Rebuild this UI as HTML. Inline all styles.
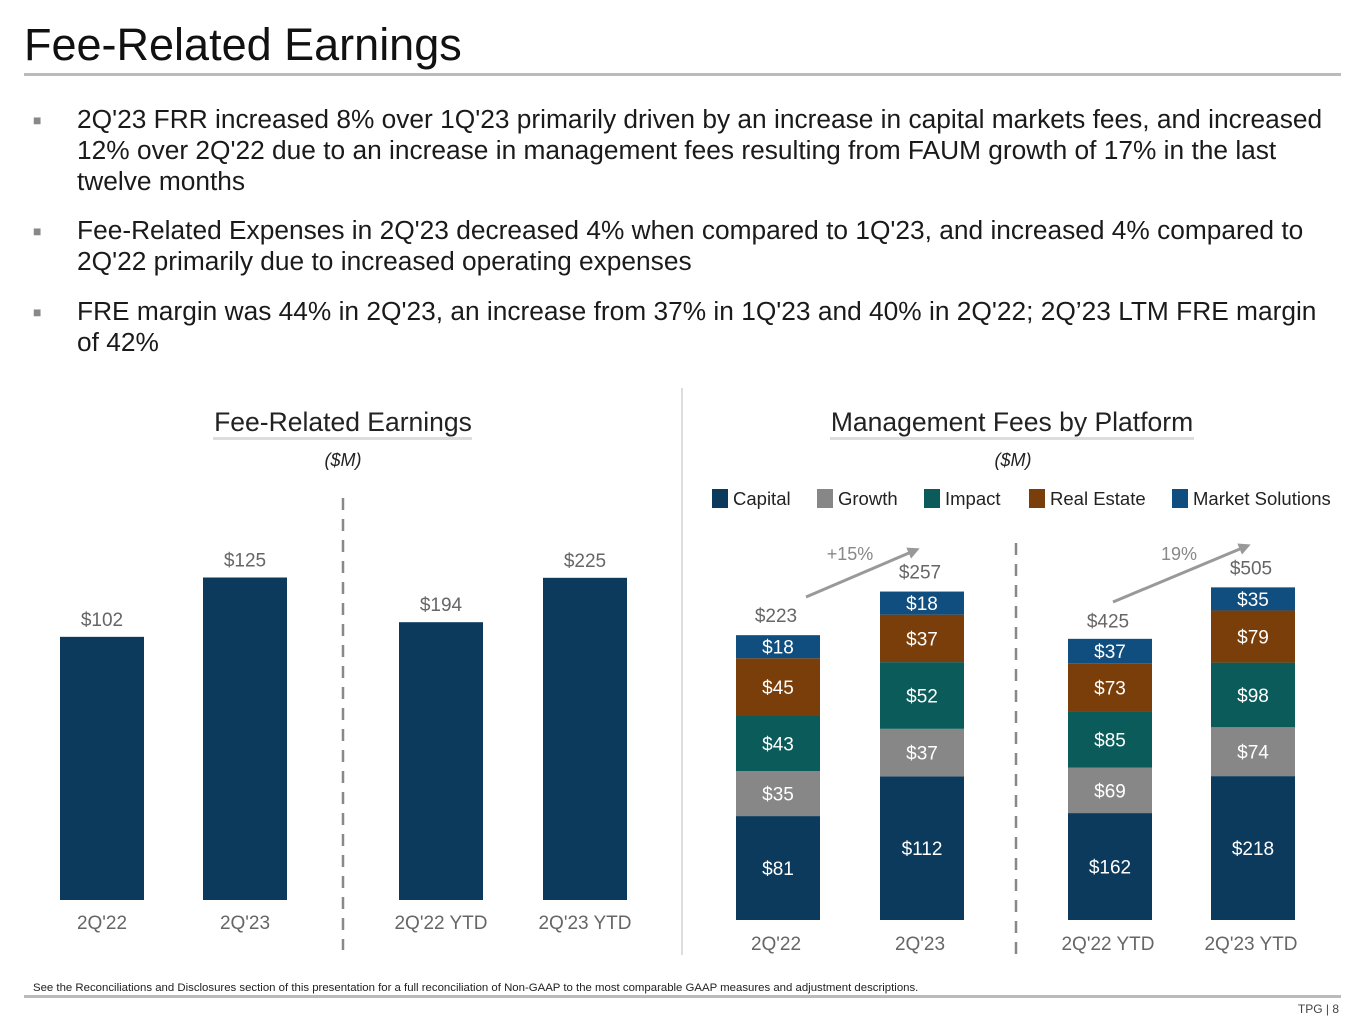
<!DOCTYPE html>
<html><head><meta charset="utf-8"><style>
body{margin:0;width:1365px;height:1024px;background:#fff;font-family:"Liberation Sans",sans-serif;overflow:hidden;position:relative}
.t{position:absolute;white-space:nowrap}
.bl{position:absolute;left:77px;font-size:26.3px;line-height:31px;color:#1a1a1a;width:1268px}
.bu{position:absolute;left:33px;font-size:14px;color:#888}
</style></head><body>
<div class="t" style="left:24px;top:19px;font-size:45px;color:#111">Fee-Related Earnings</div>
<div style="position:absolute;left:24px;top:73px;width:1317px;height:3px;background:#bbb"></div>
<div class="bu" style="top:112px">■</div>
<div class="bl" style="top:104px">2Q'23 FRR increased 8% over 1Q'23 primarily driven by an increase in capital markets fees, and increased 12% over 2Q'22 due to an increase in management fees resulting from FAUM growth of 17% in the last twelve months</div>
<div class="bu" style="top:223px">■</div>
<div class="bl" style="top:215px">Fee-Related Expenses in 2Q'23 decreased 4% when compared to 1Q'23, and increased 4% compared to 2Q'22 primarily due to increased operating expenses</div>
<div class="bu" style="top:304px">■</div>
<div class="bl" style="top:296px">FRE margin was 44% in 2Q'23, an increase from 37% in 1Q'23 and 40% in 2Q'22; 2Q’23 LTM FRE margin of 42%</div>

<svg id="svg" width="1365" height="1024" style="position:absolute;left:0;top:0" font-family="Liberation Sans, sans-serif">
<line x1="682" y1="388" x2="682" y2="955" stroke="#ddd" stroke-width="2"/>
<text x="343" y="431" font-size="26.5" text-anchor="middle" fill="#222">Fee-Related Earnings</text>
<rect x="213" y="437" width="259" height="3" fill="#ddd"/>
<text x="343" y="466" font-size="18" font-style="italic" text-anchor="middle" fill="#222">($M)</text>
<text x="1012" y="431" font-size="26.5" text-anchor="middle" fill="#222">Management Fees by Platform</text>
<rect x="830" y="437" width="364" height="3" fill="#ddd"/>
<text x="1013" y="466" font-size="18" font-style="italic" text-anchor="middle" fill="#222">($M)</text>
<line x1="343" y1="498" x2="343" y2="950" stroke="#888" stroke-width="2.5" stroke-dasharray="12,9"/>
<line x1="1016" y1="543" x2="1016" y2="955" stroke="#888" stroke-width="2.5" stroke-dasharray="12,9"/>
<g id="g"></g>
<defs><marker id="ah" markerUnits="userSpaceOnUse" markerWidth="12" markerHeight="12" refX="8" refY="6" orient="auto"><path d="M0,0L12,6L0,12z" fill="#999"/></marker></defs>
<line x1="806" y1="597" x2="916" y2="550" stroke="#999" stroke-width="3" marker-end="url(#ah)"/>
<text x="850" y="560" font-size="18" text-anchor="middle" fill="#888">+15%</text>
<line x1="1113" y1="602" x2="1247" y2="546" stroke="#999" stroke-width="3" marker-end="url(#ah)"/>
<text x="1179" y="560" font-size="18" text-anchor="middle" fill="#888">19%</text>
</svg>
<div class="t" style="left:33px;top:982px;font-size:11.4px;color:#222">See the Reconciliations and Disclosures section of this presentation for a full reconciliation of Non-GAAP to the most comparable GAAP measures and adjustment descriptions.</div>
<div style="position:absolute;left:24px;top:995px;width:1317px;height:3px;background:#bbb"></div>
<div class="t" style="right:26px;top:1002px;font-size:12px;color:#444">TPG | 8</div>
<script>
const freCategories=["2Q'22","2Q'23","2Q'22 YTD","2Q'23 YTD"];
const freValues=[102,125,194,225];
const mfCategories=["2Q'22","2Q'23","2Q'22 YTD","2Q'23 YTD"];
const mfSeriesNames=["Capital","Growth","Impact","Real Estate","Market Solutions"];
const mfCapital=[81,112,162,218];
const mfGrowth=[35,37,69,74];
const mfImpact=[43,52,85,98];
const mfRealEstate=[45,37,73,79];
const mfMarketSolutions=[18,18,37,35];
const mfTotals=[223,257,425,505];

const NS="http://www.w3.org/2000/svg";
const g=document.getElementById('g');
function mk(tag,attrs,txt){const e=document.createElementNS(NS,tag);for(const k in attrs)e.setAttribute(k,attrs[k]);if(txt!=null)e.textContent=txt;g.appendChild(e);return e;}
const freX=[60,203,399,543], bw=84, freBase=900;
const freScale=i=> i<2 ? 2.58 : 1.432;
freValues.forEach((v,i)=>{
  const h=v*freScale(i);
  const r=mk('rect',{x:freX[i],y:freBase-h,width:bw,height:h,fill:'#0c3a5c'});
  
  
  const t=mk('text',{x:freX[i]+bw/2,y:freBase-h-11,'font-size':19,'text-anchor':'middle',fill:'#666'},'$'+v);
  
  
  const c=mk('text',{x:freX[i]+bw/2,y:929,'font-size':19,'text-anchor':'middle',fill:'#666'},freCategories[i]);
  
  
});
const mfX=[736,880,1068,1211], mfBase=920;
const mfScale=i=> i<2 ? 1.283 : 0.66;
const series=[mfCapital,mfGrowth,mfImpact,mfRealEstate,mfMarketSolutions];
const colors=['#0c3a5c','#878787','#0b5b5a','#7a3e0a','#0f4e7e'];
mfCategories.forEach((cat,i)=>{
  let y=mfBase;
  series.forEach((s,k)=>{
    const h=s[i]*mfScale(i);
    const r=mk('rect',{x:mfX[i],y:y-h,width:bw,height:h,fill:colors[k]});
    
    
    const t=mk('text',{x:mfX[i]+bw/2,y:y-h/2+7,'font-size':19,'text-anchor':'middle',fill:'#fff'},'$'+s[i]);
    
    
    y-=h;
  });
  const ty=mfBase-mfTotals[i]*mfScale(i);
  const t=mk('text',{x:mfX[i]+bw/2-2,y:ty-12,'font-size':19,'text-anchor':'middle',fill:'#666'},'$'+mfTotals[i]);
  
  
  const c=mk('text',{x:mfX[i]+bw/2-2,y:950,'font-size':19,'text-anchor':'middle',fill:'#666'},cat);
  
  
});
const legX=[712,817,924,1029,1172];
mfSeriesNames.forEach((n,k)=>{
  const r=mk('rect',{x:legX[k],y:489,width:16,height:19,fill:colors[k]});
  
  
  const t=mk('text',{x:legX[k]+21,y:505,'font-size':18.5,fill:'#222'},n);
  
  
});
</script>
</body></html>
